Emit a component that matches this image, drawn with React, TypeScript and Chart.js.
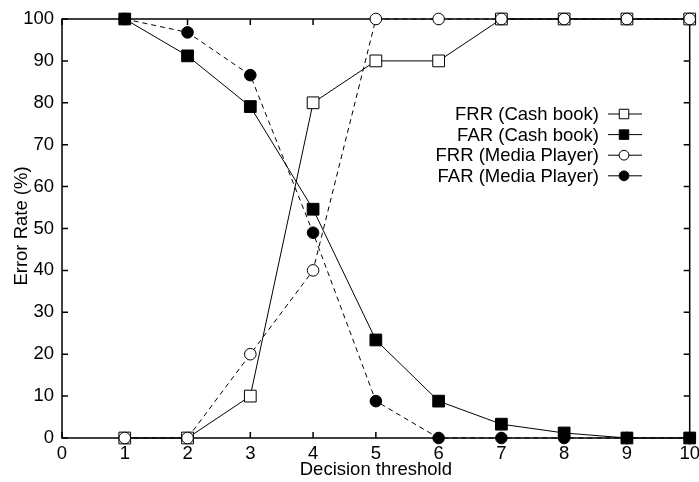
import { useEffect, useRef } from "react";
import { Chart, registerables } from "chart.js";

Chart.register(...registerables);

const thresholds = [1, 2, 3, 4, 5, 6, 7, 8, 9, 10];
const frrCashBook = [0, 0, 10, 80, 90, 90, 100, 100, 100, 100];
const farCashBook = [100, 91.2, 79.1, 54.6, 23.4, 8.8, 3.3, 1.2, 0, 0];
const frrMediaPlayer = [0, 0, 20, 40, 100, 100, 100, 100, 100, 100];
const farMediaPlayer = [100, 96.8, 86.6, 49, 8.8, 0, 0, 0, 0, 0];
const xTickValues = [0, 1, 2, 3, 4, 5, 6, 7, 8, 9, 10];
const yTickValues = [0, 10, 20, 30, 40, 50, 60, 70, 80, 90, 100];
const seriesLabels = [
  "FRR (Cash book)",
  "FAR (Cash book)",
  "FRR (Media Player)",
  "FAR (Media Player)",
];
const xTitle = "Decision threshold";
const yTitle = "Error Rate (%)";

const FONT_FAMILY = "'Liberation Sans', Arial, Helvetica, sans-serif";
const FONT_SIZE = 18.5;

const framePlugin = {
  id: "frame",
  beforeDatasetsDraw(chart: any) {
    const { ctx, chartArea } = chart;
    const { left, right, top, bottom } = chartArea;
    const xs = chart.scales.x;
    const ys = chart.scales.y;
    const tl = 6;
    ctx.save();
    ctx.strokeStyle = "#000";
    ctx.lineWidth = 1.5;
    ctx.beginPath();
    ctx.rect(left, top, right - left, bottom - top);
    ctx.stroke();
    ctx.beginPath();
    for (const v of xTickValues) {
      const px = xs.getPixelForValue(v);
      ctx.moveTo(px, bottom);
      ctx.lineTo(px, bottom - tl);
      ctx.moveTo(px, top);
      ctx.lineTo(px, top + tl);
    }
    for (const v of yTickValues) {
      const py = ys.getPixelForValue(v);
      ctx.moveTo(left, py);
      ctx.lineTo(left + tl, py);
      ctx.moveTo(right, py);
      ctx.lineTo(right - tl, py);
    }
    ctx.stroke();
    ctx.restore();
  },
  afterDraw(chart: any) {
    const { ctx, chartArea } = chart;
    ctx.save();
    ctx.fillStyle = "#000";
    ctx.font = `${FONT_SIZE}px ${FONT_FAMILY}`;
    // axis titles
    ctx.textAlign = "center";
    ctx.textBaseline = "middle";
    ctx.fillText(xTitle, (chartArea.left + chartArea.right) / 2, 470);
    ctx.save();
    ctx.translate(22, 226);
    ctx.rotate(-Math.PI / 2);
    ctx.fillText(yTitle, 0, 0);
    ctx.restore();

    // legend
    const textRight = 599;
    const lineX0 = 608;
    const lineX1 = 642;
    const markerX = 624;
    const rowY0 = 114;
    const rowStep = 20.6;
    chart.data.datasets.forEach((ds: any, i: number) => {
      const y = rowY0 + i * rowStep;
      ctx.fillStyle = "#000";
      ctx.textAlign = "right";
      ctx.textBaseline = "middle";
      ctx.fillText(ds.label, textRight, y + 1);
      ctx.strokeStyle = "#000";
      ctx.lineWidth = 1;
      ctx.setLineDash([]);
      ctx.beginPath();
      ctx.moveTo(lineX0, y);
      ctx.lineTo(lineX1, y);
      ctx.stroke();
      ctx.beginPath();
      if (ds.pointStyle === "rect") {
        const s = 9.5;
        ctx.rect(markerX - s / 2, y - s / 2, s, s);
      } else {
        ctx.arc(markerX, y, 4.9, 0, Math.PI * 2);
      }
      ctx.fillStyle = ds.pointBackgroundColor;
      ctx.fill();
      ctx.stroke();
    });
    ctx.restore();
  },
};

function toPoints(values: number[]) {
  return thresholds.map((t, i) => ({ x: t, y: values[i] }));
}

export default function App() {
  const canvasRef = useRef<HTMLCanvasElement | null>(null);

  useEffect(() => {
    if (!canvasRef.current) return;
    const tickFont = { family: FONT_FAMILY, size: FONT_SIZE };
    const common = {
      borderColor: "#000",
      borderWidth: 1,
      pointBorderColor: "#000",
      pointBorderWidth: 1,
      pointHoverRadius: 0,
      fill: false,
      tension: 0,
      clip: false as any,
    };
    const chart = new Chart(canvasRef.current, {
      type: "line",
      data: {
        datasets: [
          {
            ...common,
            label: seriesLabels[0],
            data: toPoints(frrCashBook),
            pointStyle: "rect",
            pointRadius: 8.3,
            pointBackgroundColor: "#fff",
            order: 3,
          },
          {
            ...common,
            label: seriesLabels[1],
            data: toPoints(farCashBook),
            pointStyle: "rect",
            pointRadius: 8.3,
            pointBackgroundColor: "#000",
            order: 2,
          },
          {
            ...common,
            label: seriesLabels[2],
            data: toPoints(frrMediaPlayer),
            pointStyle: "circle",
            pointRadius: 5.8,
            pointBackgroundColor: "#fff",
            borderDash: [5, 4],
            order: 1,
          },
          {
            ...common,
            label: seriesLabels[3],
            data: toPoints(farMediaPlayer),
            pointStyle: "circle",
            pointRadius: 5.8,
            pointBackgroundColor: "#000",
            borderDash: [5, 4],
            order: 0,
          },
        ] as any,
      },
      options: {
        animation: false,
        responsive: false,
        devicePixelRatio: 1,
        events: [],
        layout: { padding: { top: 19, right: 4, left: 0, bottom: 0 } },
        plugins: {
          legend: { display: false },
          tooltip: { enabled: false },
        },
        scales: {
          x: {
            type: "linear",
            min: 0,
            max: 10,
            grid: { display: false, drawTicks: false },
            border: { display: false },
            ticks: {
              stepSize: 1,
              autoSkip: false,
              maxRotation: 0,
              color: "#000",
              font: tickFont,
              padding: 5,
              callback: (v: any) => String(v),
            },
            afterFit(s: any) {
              s.height = 44;
              s.paddingLeft = 0;
              s.paddingRight = 0;
            },
          },
          y: {
            type: "linear",
            min: 0,
            max: 100,
            grid: { display: false, drawTicks: false },
            border: { display: false },
            ticks: {
              stepSize: 10,
              autoSkip: false,
              color: "#000",
              font: tickFont,
              padding: 8,
              callback: (v: any) => String(v),
            },
            afterFit(s: any) {
              s.width = 62;
              s.paddingTop = 0;
              s.paddingBottom = 0;
            },
          },
        },
      } as any,
      plugins: [framePlugin],
    });
    return () => chart.destroy();
  }, []);

  return (
    <div
      style={{
        position: "absolute",
        left: 0,
        top: 0,
        width: 699,
        height: 482,
        background: "#fff",
        overflow: "hidden",
      }}
    >
      <canvas
        ref={canvasRef}
        width={699}
        height={482}
        style={{ display: "block", width: 699, height: 482 }}
      />
    </div>
  );
}
